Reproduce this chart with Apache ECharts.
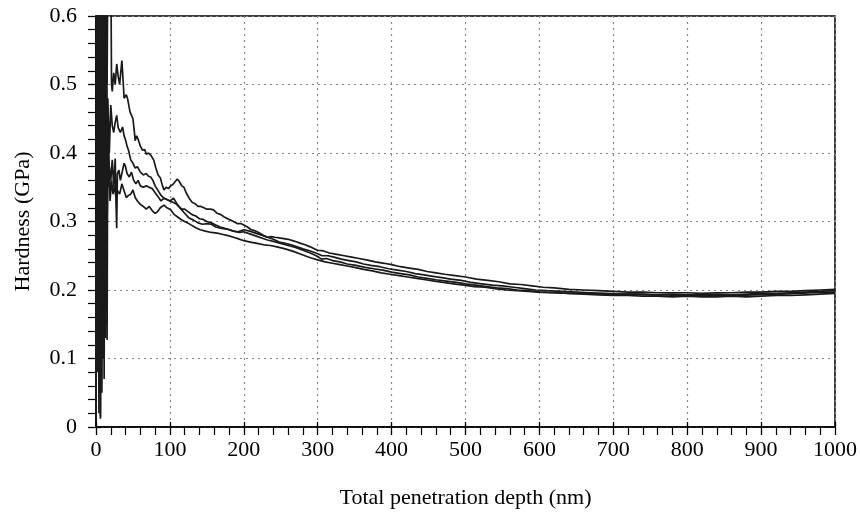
<!DOCTYPE html>
<html>
<head>
<meta charset="utf-8">
<script src="https://cdn.jsdelivr.net/npm/echarts@6/dist/echarts.min.js"></script>
<style>html,body{margin:0;padding:0;background:#fff;}#c{width:860px;height:516px;}</style>
</head>
<body>
<div id="c"></div>
<script>
var xTicks = [0,100,200,300,400,500,600,700,800,900,1000];
var yTicks = [0,0.1,0.2,0.3,0.4,0.5,0.6];
var xTitle = 'Total penetration depth (nm)';
var yTitle = 'Hardness (GPa)';

var curveA = [[0,0.04],[1,0.22],[2,0.55],[3,0.12],[4,0.70],[5,0.35],[6,0.08],[7,0.62],[9,0.28],[10,0.80],[12,0.42],[13,0.75],[15,0.50],[17,0.85],[19,0.95],[20,0.70],[21,0.50],[22,0.49],[24,0.517],[26,0.50],[28,0.53],[30,0.512],[32,0.50],[35,0.535],[37,0.50],[38,0.48],[41,0.485],[43,0.478],[46,0.46],[50,0.45],[52,0.43],[53,0.418],[55,0.425],[57,0.42],[60,0.41],[63,0.404],[66,0.405],[68,0.398],[71,0.40],[74,0.397],[76,0.395],[78,0.39],[81,0.378],[84,0.368],[87,0.364],[90,0.352],[92,0.346],[95,0.35],[98,0.348],[101,0.352],[104,0.354],[107,0.358],[110,0.362],[113,0.358],[116,0.352],[119,0.35],[122,0.342],[126,0.334],[130,0.328],[134,0.326],[138,0.322],[142,0.322],[146,0.32],[150,0.318],[155,0.318],[159,0.317],[164,0.312],[169,0.31],[173,0.307],[178,0.304],[182,0.302],[186,0.30],[191,0.297],[196,0.297],[200,0.295],[205,0.292],[210,0.288],[214,0.287],[218,0.285],[223,0.282],[228,0.279],[232,0.277],[237,0.278],[242,0.277],[248,0.276],[254,0.275],[260,0.274],[266,0.272],[272,0.27],[277,0.268],[283,0.266],[290,0.263],[296,0.26],[300,0.258],[308,0.257],[316,0.254],[326,0.252],[336,0.25],[346,0.248],[356,0.246],[366,0.244],[378,0.241],[390,0.239],[400,0.237],[412,0.234],[424,0.232],[436,0.23],[448,0.227],[460,0.225],[472,0.223],[486,0.221],[500,0.219],[515,0.216],[530,0.214],[545,0.212],[560,0.209],[575,0.208],[590,0.206],[605,0.204],[620,0.203],[640,0.201],[660,0.2],[680,0.199],[700,0.198],[720,0.197],[740,0.197],[760,0.196],[780,0.196],[800,0.196],[820,0.195],[840,0.196],[860,0.196],[880,0.197],[900,0.197],[920,0.198],[940,0.198],[960,0.199],[980,0.2],[1000,0.201]];

var curveB = [[0,0.02],[1,0.40],[2,0.08],[3,0.60],[4,0.25],[5,0.70],[6,0.015],[7,0.45],[8,0.20],[9,0.65],[11,0.38],[12,0.55],[14,0.30],[15,0.127],[16,0.48],[18,0.40],[20,0.47],[22,0.44],[24,0.43],[26,0.445],[28,0.455],[30,0.437],[33,0.43],[36,0.438],[38,0.425],[40,0.419],[42,0.41],[44,0.404],[47,0.39],[50,0.385],[53,0.378],[56,0.38],[60,0.372],[64,0.368],[68,0.37],[71,0.366],[74,0.365],[77,0.36],[80,0.352],[84,0.345],[88,0.338],[92,0.334],[96,0.332],[100,0.33],[104,0.328],[108,0.326],[112,0.322],[116,0.318],[120,0.318],[125,0.314],[130,0.31],[135,0.308],[140,0.304],[145,0.303],[150,0.3],[156,0.298],[162,0.295],[168,0.292],[174,0.29],[180,0.288],[186,0.286],[192,0.285],[200,0.288],[208,0.286],[216,0.283],[224,0.28],[232,0.277],[240,0.274],[248,0.27],[256,0.268],[264,0.266],[272,0.263],[280,0.26],[290,0.257],[300,0.253],[306,0.25],[314,0.25],[322,0.248],[332,0.245],[342,0.243],[352,0.241],[362,0.238],[372,0.236],[384,0.234],[396,0.231],[408,0.229],[420,0.227],[432,0.224],[444,0.222],[456,0.22],[468,0.218],[480,0.216],[494,0.214],[508,0.211],[522,0.209],[536,0.207],[550,0.206],[565,0.204],[580,0.202],[595,0.2],[610,0.199],[630,0.198],[650,0.197],[670,0.196],[690,0.195],[710,0.194],[730,0.194],[750,0.193],[770,0.193],[790,0.192],[810,0.193],[830,0.192],[850,0.193],[870,0.192],[890,0.193],[910,0.194],[930,0.194],[950,0.195],[970,0.196],[1000,0.197]];

var curveC = [[0,0.03],[1,0.60],[2,0.20],[3,0.90],[4,0.05],[5,0.45],[6,0.012],[7,0.30],[8,0.75],[9,0.10],[10,0.50],[11,0.07],[12,0.40],[13,0.21],[14,0.60],[16,0.35],[18,0.38],[20,0.36],[22,0.39],[24,0.35],[26,0.392],[27,0.33],[28,0.29],[29,0.37],[31,0.375],[33,0.36],[35,0.37],[38,0.385],[40,0.38],[42,0.37],[45,0.365],[48,0.372],[51,0.36],[54,0.355],[57,0.36],[60,0.352],[64,0.35],[68,0.352],[72,0.35],[76,0.348],[80,0.342],[84,0.336],[88,0.33],[92,0.334],[96,0.332],[100,0.33],[105,0.334],[110,0.325],[115,0.318],[120,0.312],[126,0.305],[132,0.302],[138,0.298],[144,0.296],[150,0.297],[156,0.296],[162,0.292],[170,0.29],[178,0.289],[186,0.286],[194,0.284],[200,0.285],[208,0.282],[216,0.279],[224,0.276],[232,0.273],[240,0.271],[250,0.268],[260,0.265],[270,0.262],[280,0.258],[290,0.254],[300,0.249],[305,0.245],[312,0.246],[320,0.243],[330,0.241],[340,0.238],[352,0.236],[364,0.233],[376,0.231],[388,0.229],[400,0.226],[412,0.224],[424,0.222],[436,0.219],[448,0.217],[460,0.215],[474,0.213],[488,0.211],[500,0.209],[514,0.207],[528,0.205],[542,0.203],[556,0.202],[570,0.2],[585,0.199],[600,0.197],[620,0.196],[640,0.195],[660,0.194],[680,0.193],[700,0.192],[720,0.192],[740,0.191],[760,0.191],[780,0.19],[800,0.191],[820,0.19],[840,0.19],[860,0.191],[880,0.19],[900,0.191],[920,0.192],[940,0.192],[960,0.193],[980,0.194],[1000,0.195]];

var curveD = [[0,0.01],[1,0.50],[2,0.15],[3,0.40],[4,0.02],[5,0.65],[6,0.25],[7,0.55],[8,0.05],[9,0.35],[10,0.60],[11,0.25],[12,0.45],[13,0.13],[14,0.38],[15,0.30],[17,0.42],[19,0.33],[21,0.36],[23,0.34],[25,0.352],[27,0.335],[29,0.345],[32,0.34],[35,0.355],[38,0.345],[41,0.335],[44,0.338],[47,0.34],[50,0.346],[53,0.335],[56,0.33],[60,0.325],[64,0.322],[68,0.318],[72,0.322],[76,0.316],[80,0.312],[83,0.314],[87,0.32],[92,0.324],[96,0.32],[101,0.317],[106,0.31],[110,0.307],[115,0.303],[120,0.3],[124,0.298],[130,0.294],[135,0.291],[141,0.288],[148,0.286],[156,0.284],[164,0.283],[172,0.281],[180,0.279],[186,0.277],[192,0.275],[200,0.272],[209,0.27],[218,0.268],[227,0.266],[236,0.265],[245,0.263],[256,0.26],[268,0.256],[280,0.251],[290,0.247],[300,0.244],[310,0.241],[320,0.239],[330,0.237],[340,0.235],[350,0.233],[362,0.23],[374,0.228],[386,0.225],[398,0.223],[410,0.221],[422,0.219],[434,0.217],[446,0.215],[458,0.213],[470,0.211],[484,0.209],[498,0.207],[512,0.205],[526,0.204],[540,0.202],[555,0.2],[570,0.199],[585,0.198],[600,0.197],[620,0.196],[640,0.195],[660,0.195],[680,0.194],[700,0.194],[720,0.194],[740,0.194],[760,0.193],[780,0.194],[800,0.193],[820,0.193],[840,0.194],[860,0.193],[880,0.194],[900,0.195],[920,0.195],[940,0.196],[960,0.197],[980,0.198],[1000,0.199]];

var FONT = '"Liberation Serif", "DejaVu Serif", serif';
var chart = echarts.init(document.getElementById('c'), null, {renderer: 'canvas'});

function mkLine(d) {
  return {type: 'line', data: d, xAxisIndex: 0, yAxisIndex: 0, showSymbol: false, symbol: 'none',
    lineStyle: {color: '#1a1a1a', width: 1.7}, clip: true, animation: false, z: 3};
}

var xMin = xTicks[0], xMax = xTicks[xTicks.length - 1], xInt = xTicks[1] - xTicks[0];
var yMin = yTicks[0], yMax = yTicks[yTicks.length - 1], yInt = yTicks[1] - yTicks[0];

chart.setOption({
  animation: false,
  backgroundColor: '#fff',
  grid: {left: 96, right: 25, top: 16, bottom: 89, show: true, borderColor: '#000', borderWidth: 1.5, backgroundColor: 'transparent'},
  xAxis: [{
    type: 'value', min: xMin, max: xMax, interval: xInt, position: 'bottom',
    name: xTitle, nameLocation: 'middle', nameGap: 60,
    nameTextStyle: {fontFamily: FONT, fontSize: 22, color: '#000'},
    axisLine: {show: true, onZero: false, lineStyle: {color: '#000', width: 1.5}},
    axisTick: {show: true, inside: false, length: 8, lineStyle: {color: '#000', width: 1.3}},
    minorTick: {show: true, splitNumber: 5, length: 8, lineStyle: {color: '#000', width: 1.2}},
    axisLabel: {fontFamily: FONT, fontSize: 22, color: '#000', margin: 12,
      formatter: function (v) { return String(v); }},
    splitLine: {show: true, lineStyle: {color: '#888', width: 1.2, type: [2, 4]}},
    minorSplitLine: {show: false}
  }, {
    type: 'value', min: xMin, max: xMax, interval: xInt, position: 'bottom',
    axisLine: {show: false, onZero: false},
    axisTick: {show: true, inside: true, length: 5, lineStyle: {color: '#000', width: 1.3}},
    axisLabel: {show: false}, splitLine: {show: false}
  }],
  yAxis: [{
    type: 'value', min: yMin, max: yMax, interval: yInt, position: 'left',
    name: yTitle, nameLocation: 'middle', nameGap: 62,
    nameTextStyle: {fontFamily: FONT, fontSize: 22, color: '#000'},
    axisLine: {show: true, onZero: false, lineStyle: {color: '#000', width: 1.5}},
    axisTick: {show: true, inside: false, length: 8, lineStyle: {color: '#000', width: 1.3}},
    minorTick: {show: true, splitNumber: 5, length: 8, lineStyle: {color: '#000', width: 1.2}},
    axisLabel: {fontFamily: FONT, fontSize: 22, color: '#000', margin: 19,
      formatter: function (v) { return v === 0 ? '0' : v.toFixed(1); }},
    splitLine: {show: true, lineStyle: {color: '#888', width: 1.2, type: [2, 4]}},
    minorSplitLine: {show: false}
  }, {
    type: 'value', min: yMin, max: yMax, interval: yInt, position: 'left',
    axisLine: {show: false, onZero: false},
    axisTick: {show: true, inside: true, length: 5, lineStyle: {color: '#000', width: 1.3}},
    axisLabel: {show: false}, splitLine: {show: false}
  }],
  series: [mkLine(curveA), mkLine(curveB), mkLine(curveC), mkLine(curveD)]
});
</script>
</body>
</html>
